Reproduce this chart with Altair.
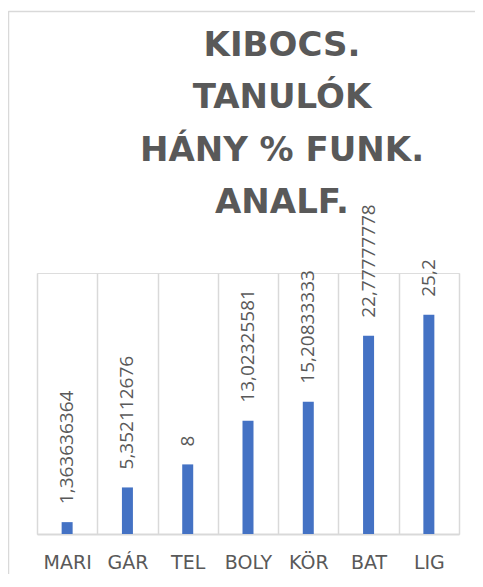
import altair as alt
import pandas as pd

categories = ["MARI", "GÁR", "TEL", "BOLY", "KÖR", "BAT", "LIG"]
values = [1.363636364, 5.352112676, 8, 13.02325581, 15.20833333, 22.77777778, 25.2]
labels = ["1,363636364", "5,352112676", "8", "13,02325581", "15,20833333", "22,77777778", "25,2"]
title_lines = ["KIBOCS.", "TANULÓK", "HÁNY % FUNK.", "ANALF."]

df = pd.DataFrame({"cat": categories, "val": values, "lab": labels})
one = pd.DataFrame({"k": [0]})

W, H = 422, 261
GRAY = "#595959"
LINE = "#d9d9d9"

x_enc = alt.X(
    "cat:N",
    sort=categories,
    title=None,
    scale=alt.Scale(paddingInner=0, paddingOuter=0),
    axis=alt.Axis(
        labelAngle=0,
        labelFont="DejaVu Sans",
        labelFontSize=19,
        labelColor=GRAY,
        labelPadding=19,
        labelBaseline="top",
        ticks=False,
        domainColor=LINE,
        domainWidth=2,
        grid=True,
        gridColor=LINE,
        gridWidth=1.5,
        tickBand="extent",
    ),
)
y_enc = alt.Y("val:Q", scale=alt.Scale(domain=[0, 30]), axis=None)

bars = alt.Chart(df).mark_bar(size=11, color="#4472C4").encode(x=x_enc, y=y_enc)

text = alt.Chart(df).mark_text(
    angle=270,
    align="left",
    baseline="middle",
    dx=18,
    font="Open Sans",
    fontSize=19,
    color=GRAY,
).encode(x=alt.X("cat:N", sort=categories), y=y_enc, text="lab:N")

title = alt.Chart(one).mark_text(
    text=title_lines,
    font="DejaVu Sans",
    fontSize=34,
    fontWeight="bold",
    color=GRAY,
    lineHeight=52.3,
    align="center",
    baseline="top",
).encode(x=alt.value(245), y=alt.value(-244))

border_left = alt.Chart(one).mark_rule(color=LINE, strokeWidth=1.5).encode(
    x=alt.value(-28.5), y=alt.value(-262), y2=alt.value(400)
)
border_top = alt.Chart(one).mark_rule(color=LINE, strokeWidth=1.5).encode(
    x=alt.value(-28.5), x2=alt.value(500), y=alt.value(-261.5)
)

chart = (
    alt.layer(border_left, border_top, bars, text, title)
    .properties(
        width=W,
        height=H,
        autosize=alt.AutoSizeParams(type="none"),
        padding={"left": 29, "top": 265, "right": 16, "bottom": 40},
    )
    .configure_view(stroke=None)
    .configure(background="white")
)

chart.save("out.html", embed_options={"renderer": "svg", "actions": False})
